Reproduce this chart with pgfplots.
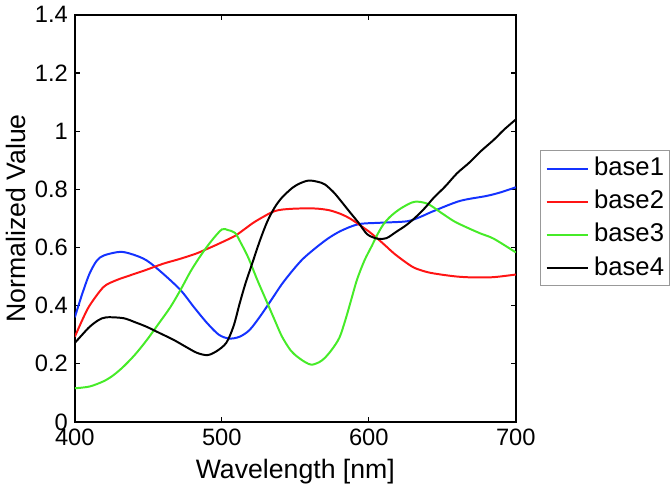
\documentclass[border=0pt]{standalone}
\usepackage{fontspec}
\setmainfont{Liberation Sans}
\usepackage{pgfplots}
\pgfplotsset{compat=1.18}
\definecolor{cblue}{RGB}{20,50,255}
\definecolor{cred}{RGB}{255,20,20}
\definecolor{cgreen}{RGB}{70,235,40}
\begin{document}
\begin{tikzpicture}
\begin{axis}[
  scale only axis,
  width=222.5bp, height=205.5bp,
  xmin=400, xmax=700, ymin=0, ymax=1.4,
  xtick={400,500,600,700},
  ytick={0,0.2,0.4,0.6,0.8,1,1.2,1.4},
  tick align=inside, tick pos=both,
  major tick length=2.5bp,
  axis line style={line width=0.8bp},
  every tick/.style={black, line width=0.6bp},
  /pgf/number format/assume math mode=true,
  ticklabel style={font=\fontsize{12}{12}\selectfont},
  xlabel={Wavelength [nm]},
  ylabel={Normalized Value},
  xlabel style={at={([yshift=-25bp]axis description cs:0.5,0)}, anchor=center, font=\fontsize{13.5}{13.5}\selectfont},
  ylabel style={at={([xshift=-29.5bp]axis description cs:0,0.5)}, anchor=center, rotate=0, font=\fontsize{13.5}{13.5}\selectfont},
  legend style={at={(1,1)}, anchor=north west, xshift=12bp, yshift=-68.5bp,
    font=\fontsize{13}{13}\selectfont, draw=gray!80, line width=0.5bp,
    inner xsep=2.75bp, inner ysep=3bp, row sep=4.7bp, column sep=2.5bp,
    nodes={inner sep=0pt, text height=9.5bp, text depth=2.5bp}},
  legend cell align=left,
  legend image code/.code={\draw[#1] (0bp,0bp) -- (21bp,0bp);},
  every axis plot/.append style={line width=1bp, smooth, no markers},
]
\addplot[cblue] coordinates {
(400,0.36) (405,0.44) (410,0.51) (415,0.555) (420,0.573) (431,0.585) (440,0.575)
(449,0.555) (460,0.51) (472,0.453) (481,0.395) (490,0.34) (498,0.3) (505,0.287)
(512,0.293) (519,0.317) (527,0.37) (535,0.43) (541,0.475) (548,0.52) (555,0.56)
(563,0.595) (572,0.63) (581,0.657) (593,0.68) (608,0.685) (626,0.69) (635,0.705)
(644,0.725) (662,0.76) (680,0.777) (690,0.79) (700,0.807)};
\addlegendentry{base1}
\addplot[cred] coordinates {
(400,0.293) (405,0.35) (410,0.40) (419.5,0.464) (428,0.487) (437.5,0.504) (448,0.522)
(460,0.544) (471,0.56) (482,0.578) (490,0.595) (498,0.613) (509,0.64) (516,0.665)
(523,0.69) (536,0.725) (548,0.733) (563,0.734) (573,0.728) (581,0.715) (587,0.70)
(593,0.68) (600,0.655) (606,0.63) (612,0.603) (617,0.58) (624,0.553) (631,0.53)
(640,0.515) (649,0.507) (660,0.5) (671,0.497) (685,0.498) (700,0.507)};
\addlegendentry{base2}
\addplot[cgreen] coordinates {
(400,0.116) (410,0.122) (419.5,0.14) (426,0.16) (433,0.19) (441,0.232) (449,0.282)
(457,0.338) (465,0.395) (472,0.455) (479,0.52) (486,0.575) (493,0.623) (500,0.662)
(504,0.66) (509,0.65) (513,0.615) (518,0.565) (524,0.49) (530,0.42) (536,0.35)
(541,0.293) (547,0.245) (552,0.222) (557,0.205) (561,0.197) (566,0.205) (570,0.22)
(575,0.25) (580,0.29) (584,0.35) (588,0.42) (592,0.49) (597,0.555) (602,0.605)
(606,0.646) (610,0.68) (615,0.708) (622,0.735) (631,0.757) (640,0.75) (649,0.72)
(658,0.69) (667,0.668) (676,0.648) (685,0.63) (700,0.583)};
\addlegendentry{base3}
\addplot[black] coordinates {
(400,0.272) (405,0.3) (410,0.327) (416,0.35) (421.5,0.36) (433,0.357) (441,0.343)
(449,0.327) (458,0.305) (467,0.283) (475,0.26) (483,0.238) (490,0.23) (496,0.242)
(503,0.272) (508,0.33) (512,0.405) (516,0.475) (521,0.55) (526,0.625) (531,0.69)
(536,0.738) (541,0.772) (548,0.805) (553,0.82) (559,0.83) (565,0.826) (570,0.817)
(576,0.79) (581,0.76) (587,0.722) (593,0.685) (599,0.645) (606,0.63) (612,0.632)
(619,0.655) (625,0.675) (631,0.70) (638,0.735) (644,0.77) (652,0.81) (660,0.855)
(668,0.89) (676,0.93) (685,0.97) (692,1.005) (700,1.04)};
\addlegendentry{base4}
\coordinate (bl) at (rel axis cs:0,0);
\coordinate (tr) at (rel axis cs:1,1);
\end{axis}
\path (bl) ++(-35.5bp,-33.5bp) (tr) ++(77bp,6bp);
\end{tikzpicture}
\end{document}
